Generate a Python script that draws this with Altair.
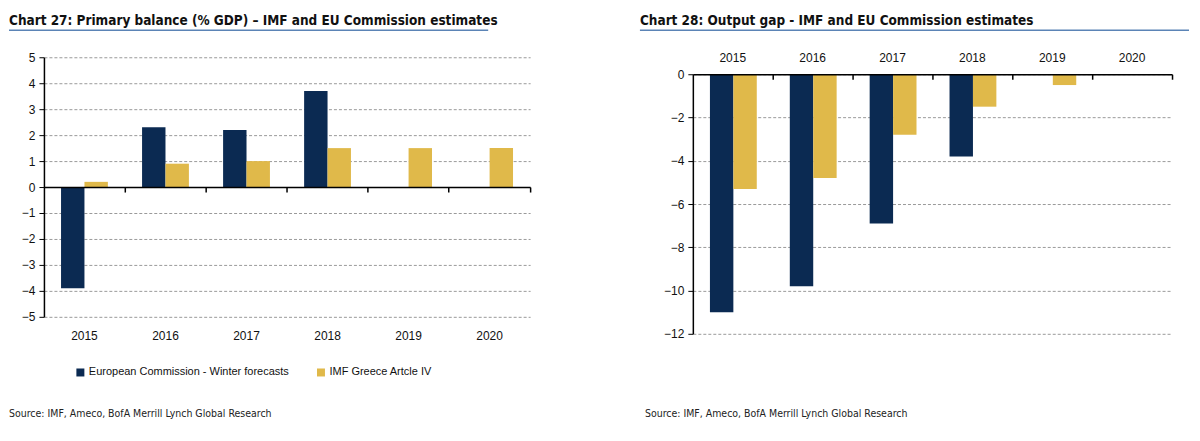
import altair as alt
import pandas as pd

years = ["2015", "2016", "2017", "2018", "2019", "2020"]
series = ["European Commission - Winter forecasts", "IMF Greece Artcle IV"]
pb_ec = [-3.9, 2.3, 2.2, 3.7, None, None]
pb_imf = [0.2, 0.9, 1.0, 1.5, 1.5, 1.5]
og_ec = [-11.0, -9.8, -6.9, -3.8, None, None]
og_imf = [-5.3, -4.8, -2.8, -1.5, -0.5, None]
pb_ticks = [-5, -4, -3, -2, -1, 0, 1, 2, 3, 4, 5]
og_ticks = [-12, -10, -8, -6, -4, -2, 0]
colors = ["#0B2A52", "#E0B94A"]

title_left = "Chart 27: Primary balance (% GDP) \u2013 IMF and EU Commission estimates"
title_right = "Chart 28: Output gap - IMF and EU Commission estimates"
source = "Source: IMF, Ameco, BofA Merrill Lynch Global Research"

AX_FONT = "Liberation Sans"
NARROW = "DejaVu Sans Condensed, sans-serif"


def long_df(ec, imf):
    rows = []
    for y, a, b in zip(years, ec, imf):
        if a is not None:
            rows.append({"year": y, "series": series[0], "value": a})
        if b is not None:
            rows.append({"year": y, "series": series[1], "value": b})
    return pd.DataFrame(rows)


def make_panel(ec, imf, ticks, ydomain, width, height, yrange, label_orient,
               label_pad, zero_offset, title, title_dx, underline_x2,
               legend_x, source_dx, col_pad):
    df = long_df(ec, imf)
    xscale = alt.Scale(domain=years, paddingInner=0, paddingOuter=0)
    yscale_kwargs = dict(domain=ydomain, nice=False, zero=False)
    if yrange is not None:
        yscale_kwargs["range"] = yrange
    bars = alt.Chart(df).mark_bar().encode(
        x=alt.X("year:N", sort=years, scale=xscale,
                axis=alt.Axis(orient=label_orient, domain=False, ticks=False,
                              grid=False, title=None, labelAngle=0,
                              labelPadding=label_pad, labelFontSize=12,
                              labelFont=AX_FONT, labelColor="#111")),
        xOffset=alt.XOffset("series:N", sort=series,
                            scale=alt.Scale(domain=series, paddingInner=0,
                                            paddingOuter=0.73)),
        y=alt.Y("value:Q", scale=alt.Scale(**yscale_kwargs),
                axis=alt.Axis(values=ticks, title=None, grid=True,
                              gridDash=[3, 2], gridColor="#9a9a9a",
                              gridWidth=1, domainColor="#000",
                              domainWidth=1.5, tickColor="#000",
                              tickSize=5, tickWidth=1, labelPadding=4,
                              labelFontSize=12, labelFont=AX_FONT,
                              labelColor="#111", format="d")),
        color=alt.Color("series:N", sort=series,
                        scale=alt.Scale(domain=series, range=colors),
                        legend=alt.Legend(orient="none", legendX=legend_x,
                                          legendY=310,
                                          direction="horizontal", title=None,
                                          symbolType="square", symbolSize=64,
                                          symbolStrokeWidth=0, labelFontSize=11,
                                          labelFont=AX_FONT, labelColor="#111",
                                          labelLimit=400,
                                          columnPadding=col_pad, padding=0,
                                          labelOffset=3)),
    )
    zero_axis = alt.Chart(df).mark_point(opacity=0).encode(
        x=alt.X("year:N", sort=years, scale=xscale,
                axis=alt.Axis(orient="bottom", offset=zero_offset, labels=False,
                              domain=True, ticks=True, bandPosition=1,
                              tickSize=5, tickWidth=1.5, tickColor="#000",
                              domainColor="#000", domainWidth=1.5,
                              grid=False, title=None, zindex=2)),
    )
    tdf = pd.DataFrame({"t": [title], "s": [source]})
    title_mark = alt.Chart(tdf).mark_text(
        align="left", baseline="alphabetic", font=NARROW, fontSize=13.5,
        fontWeight="bold", color="#111").encode(
        x=alt.value(title_dx), y=alt.value(-32), text="t:N")
    underline = alt.Chart(tdf).mark_rule(color="#5B84B6", strokeWidth=1.5).encode(
        x=alt.value(title_dx), x2=alt.value(underline_x2), y=alt.value(-27))
    source_mark = alt.Chart(tdf).mark_text(
        align="left", baseline="middle", font=NARROW, fontSize=10.5,
        color="#222").encode(
        x=alt.value(source_dx), y=alt.value(357), text="s:N")
    return alt.layer(bars, zero_axis, title_mark, underline, source_mark).resolve_axis(
        x="independent").properties(width=width, height=height)


left = make_panel(pb_ec, pb_imf, pb_ticks, [-5, 5], 487, 260, None, "bottom",
                  14, -130, title_left, -35, 445, 31, -35, 26)
right = make_panel(og_ec, og_imf, og_ticks, [-12, 0], 480, 277, [277, 17], "top",
                   -7, -260, title_right, -53, 497, 25, -48, 27)

chart = alt.hconcat(left, right, spacing=163, bounds="flush").properties(
    padding={"left": 0, "top": 6, "right": 2, "bottom": 2}
).configure_view(stroke=None)

chart.save("out.html", embed_options={"renderer": "svg", "actions": False})
